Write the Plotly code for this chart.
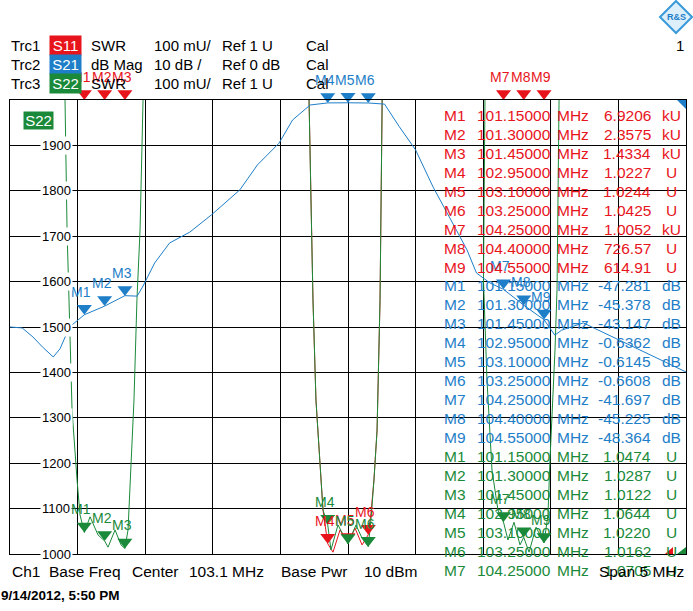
import plotly.graph_objects as go

# Trc2 S21 dB Mag (MHz, dB)
s21_freq = [100.60, 100.69, 100.77, 100.84, 100.92, 100.97, 101.04, 101.15, 101.30, 101.45,
            101.54, 101.58, 101.67, 101.78, 101.93, 102.09, 102.30, 102.43, 102.59, 102.69,
            102.82, 102.95, 103.10, 103.25, 103.37, 103.48, 103.60, 103.73, 103.85, 103.98,
            104.05, 104.15, 104.25, 104.40, 104.55, 104.63, 104.68, 104.84, 105.60]
s21_db = [-50.0, -50.2, -52.2, -54.4, -56.6, -54.8, -50.0, -47.3, -45.4, -43.1,
          -43.2, -41.2, -35.9, -31.5, -29.1, -25.3, -19.8, -14.3, -9.5, -4.4,
          -1.1, -0.64, -0.61, -0.66, -0.9, -5.9, -11.0, -19.2, -25.8, -33.0,
          -38.1, -40.3, -41.7, -45.2, -48.4, -51.8, -50.7, -49.1, -59.9]

# Trc3 S22 SWR (U), values above 2 U are off the top of the screen
s22_freq = [100.60, 101.007, 101.022, 101.059, 101.096, 101.118, 101.15, 101.192, 101.251, 101.30,
            101.325, 101.377, 101.421, 101.45, 101.473, 101.495, 101.517, 101.539, 101.562, 101.584,
            101.613, 102.782, 102.812, 102.826, 102.841, 102.863, 102.893, 102.915, 102.95, 102.974,
            103.026, 103.10, 103.159, 103.204, 103.25, 103.270, 103.292, 103.315, 103.337, 103.359,
            103.388, 104.076, 104.113, 104.102, 104.128, 104.165, 104.209, 104.25, 104.283, 104.328,
            104.372, 104.40, 104.439, 104.491, 104.55, 104.579, 104.594, 104.631, 104.646, 104.661,
            104.690, 105.60]
s22_swr = [3.0, 2.0, 1.714, 1.317, 1.163, 1.086, 1.0474, 1.082, 1.042, 1.0287,
           1.015, 1.053, 1.020, 1.0122, 1.053, 1.185, 1.339, 1.560, 1.714, 2.0,
           3.0, 3.0, 2.0, 1.780, 1.560, 1.339, 1.185, 1.097, 1.0644, 1.009,
           1.064, 1.0220, 1.064, 1.035, 1.0162, 1.075, 1.163, 1.273, 1.560, 2.0,
           3.0, 3.0, 2.0, 1.604, 1.383, 1.185, 1.097, 1.0705, 1.031, 1.070,
           1.020, 1.0367, 1.004, 1.059, 1.0243, 1.086, 1.207, 1.449, 1.582, 2.0,
           3.0, 3.0]

# Trc1 S11 SWR (U), only the middle band is on screen (walls run under S22)
s11_freq = [100.60, 102.782, 102.812, 102.826, 102.841, 102.863, 102.893, 102.915, 102.95, 102.989,
            103.041, 103.10, 103.152, 103.204, 103.25, 103.270, 103.292, 103.315, 103.337, 103.359,
            103.388, 105.60]
s11_swr = [8.0, 3.0, 2.0, 1.780, 1.560, 1.339, 1.185, 1.097, 1.0227, 1.004,
           1.053, 1.0244, 1.057, 1.020, 1.0425, 1.090, 1.163, 1.273, 1.560, 2.0,
           3.0, 8.0]

# markers
marker_names = ['M1', 'M2', 'M3', 'M4', 'M5', 'M6', 'M7', 'M8', 'M9']
marker_freq = [101.15, 101.30, 101.45, 102.95, 103.10, 103.25, 104.25, 104.40, 104.55]
s11_marker = [6920.6, 2357.5, 1433.4, 1.0227, 1.0244, 1.0425, 1005.2, 726.57, 614.91]
s21_marker = [-47.281, -45.378, -43.147, -0.6362, -0.6145, -0.6608, -41.697, -45.225, -48.364]
s22_marker = [1.0474, 1.0287, 1.0122, 1.0644, 1.0220, 1.0162, 1.0705, 1.0367, 1.0243]

ytick_vals = [1.0, 1.1, 1.2, 1.3, 1.4, 1.5, 1.6, 1.7, 1.8, 1.9]
ytick_text = ['1000', '1100', '1200', '1300', '1400', '1500', '1600', '1700', '1800', '1900']

RED = '#E8141C'
BLUE = '#1E7EC8'
GREEN = '#1A8A3A'
FONT = 'Liberation Sans, Arial, sans-serif'

W, H = 693, 611
L, R, T, B = 10, 7, 100, 57
PW = W - L - R
PH = H - T - B
y_top = 2.0


def px(x):
    return (x - L) / PW


def py(y):
    return (H - B - y) / PH


fig = go.Figure()
fig.add_trace(go.Scatter(x=s11_freq, y=s11_swr, mode='lines', line=dict(color=RED, width=1)))
fig.add_trace(go.Scatter(x=s22_freq, y=s22_swr, mode='lines', line=dict(color=GREEN, width=1)))
fig.add_trace(go.Scatter(x=s21_freq, y=s21_db, yaxis='y2', mode='lines', line=dict(color=BLUE, width=1)))

# off-scale markers sit on the top edge
s11_pin = [min(v, y_top) for v in s11_marker]
s22_pin = [min(v, y_top) for v in s22_marker]

ann = []
for ys, yref, col in [(s11_pin, 'y', RED), (s21_marker, 'y2', BLUE), (s22_pin, 'y', GREEN)]:
    # triangle pointing down with its tip on the marker value
    fig.add_trace(go.Scatter(x=marker_freq, y=ys, yaxis=yref, mode='markers', cliponaxis=False,
                             marker=dict(symbol='triangle-up', angle=180, size=13, color=col,
                                         standoff=6.5, line=dict(width=0))))
    for name, f, v in zip(marker_names, marker_freq, ys):
        ann.append(dict(x=f, y=v, xref='x', yref=yref, text=name, showarrow=False,
                        xshift=-3, yshift=23, font=dict(color=col, size=14)))

# y tick labels sitting on the grid lines
for v, t in zip(ytick_vals, ytick_text):
    ann.append(dict(x=px(39.5), y=v, xref='paper', yref='y', text=t, showarrow=False,
                    bgcolor='white', borderpad=1, font=dict(size=13)))


def text(x, y, s, color='black', size=15, anchor='left', **kw):
    ann.append(dict(x=px(x), y=py(y), xref='paper', yref='paper', text=s, showarrow=False,
                    xanchor=anchor, yanchor='middle', font=dict(color=color, size=size), **kw))


# header
header = [('Trc1', 'S11', RED, 'SWR', '100 mU/', 'Ref 1 U'),
          ('Trc2', 'S21', BLUE, 'dB Mag', '10 dB /', 'Ref 0 dB'),
          ('Trc3', 'S22', GREEN, 'SWR', '100 mU/', 'Ref 1 U')]
for i, (trc, sp, col, fmt, scale, ref) in enumerate(header):
    y = 45 + 19 * i
    text(9, y, trc)
    text(65.5, y, sp, color='white', anchor='center', bgcolor=col, width=31, height=19, borderpad=0)
    text(89, y, fmt)
    text(152, y, scale)
    text(220, y, ref)
    text(304, y, 'Cal')
text(686, 46, '1', anchor='right')
text(38.5, 120, 'S22', color='white', anchor='center', bgcolor=GREEN, width=29, height=17, borderpad=0)

# marker table


def s11_fmt(v):
    return ('%.4f' % (v / 1000), 'kU') if v >= 1000 else ('%.5g' % v, 'U')


rows = []
for n, f, v in zip(marker_names, marker_freq, s11_marker):
    rows.append((n, f) + s11_fmt(v) + (RED,))
for n, f, v in zip(marker_names, marker_freq, s21_marker):
    rows.append((n, f, '%.5g' % v, 'dB', BLUE))
for n, f, v in list(zip(marker_names, marker_freq, s22_marker))[:7]:
    rows.append((n, f, '%.4f' % v, 'U', GREEN))
for i, (n, f, val, unit, col) in enumerate(rows):
    y = 115 + 19 * i - (1 if i >= 9 else 0)
    text(442, y, n, color=col, size=15.5)
    text(553, y, '%.5f' % f, color=col, size=15.5, anchor='right')
    text(555, y, 'MHz', color=col, size=15.5)
    text(653, y, val, color=col, size=15.5, anchor='right')
    text(671, y, unit, color=col, size=15.5, anchor='center')

# footer
footer = [(10, 'Ch1'), (47, 'Base Freq'), (130, 'Center'), (187, '103.1 MHz'),
          (279, 'Base Pwr'), (362, '10 dBm')]
for x, s in footer:
    text(x, 571, s, size=15.5)
text(686, 571, 'Span 5 MHz', size=15.5, anchor='right')
text(-1, 595, '<b>9/14/2012, 5:50 PM</b>', size=13.5)

# R&S logo
text(676, 17, '<b>R&S</b>', color=BLUE, size=9, anchor='center')

shapes = [
    dict(type='path', xref='paper', yref='paper', layer='below',
         path='M %f,%f L %f,%f L %f,%f L %f,%f Z' % (px(660), py(17), px(676), py(1), px(692), py(17), px(676), py(33)),
         fillcolor='#DCEFFB', line=dict(color='#3A9AD9', width=2)),
    dict(type='path', xref='paper', yref='paper', layer='above',
         path='M %f,%f L %f,%f L %f,%f Z' % (px(677), py(100), px(686), py(100), px(686), py(109)),
         fillcolor=BLUE, line=dict(width=0)),
    dict(type='path', xref='paper', yref='paper', layer='above',
         path='M %f,%f L %f,%f L %f,%f Z' % (px(665), py(554), px(673), py(554), px(673), py(547)),
         fillcolor=RED, line=dict(width=0)),
    dict(type='path', xref='paper', yref='paper', layer='above',
         path='M %f,%f L %f,%f L %f,%f Z' % (px(677), py(554), px(686), py(554), px(686), py(547)),
         fillcolor=GREEN, line=dict(width=0)),
]

fig.update_layout(
    width=W, height=H, autosize=False,
    margin=dict(l=L, r=R, t=T, b=B, pad=0),
    paper_bgcolor='white', plot_bgcolor='white', showlegend=False,
    font=dict(family=FONT, size=15, color='black'),
    xaxis=dict(range=[100.6, 105.6], tick0=100.6, dtick=0.5, showgrid=True, gridcolor='black',
               gridwidth=1, showticklabels=False, ticks='', zeroline=False, showline=True,
               linecolor='black', linewidth=1, mirror=True, fixedrange=True),
    yaxis=dict(range=[1.0, 2.0], tick0=1.0, dtick=0.1, showgrid=True, gridcolor='black',
               gridwidth=1, showticklabels=False, ticks='', zeroline=False, showline=True,
               linecolor='black', linewidth=1, mirror=True, fixedrange=True),
    yaxis2=dict(range=[-100, 0], overlaying='y', visible=False, fixedrange=True),
    annotations=ann, shapes=shapes,
)

# the page body has a default 8px margin; drop it so the figure fills the window
fig.write_html("out.html", config={'displayModeBar': False},
               post_script="document.body.style.margin='0px';")
